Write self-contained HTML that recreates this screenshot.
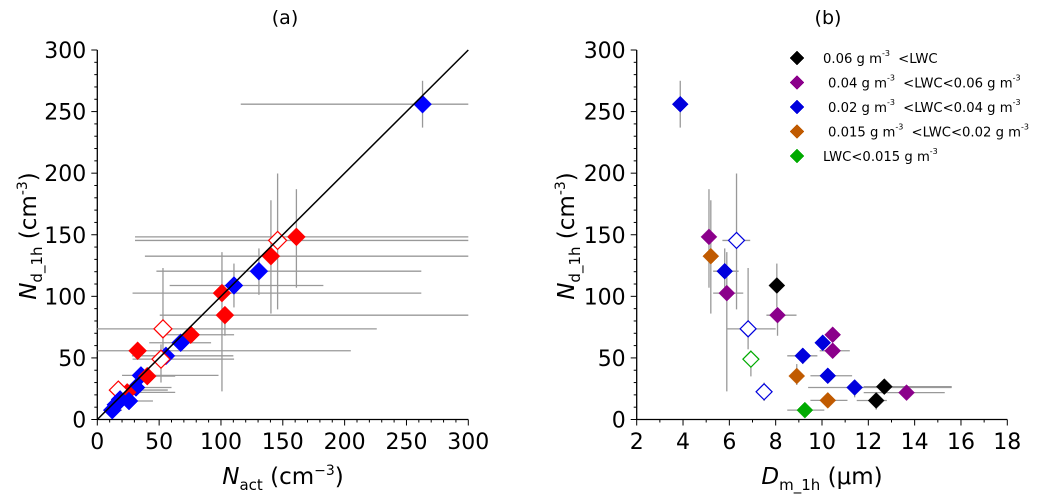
<!DOCTYPE html>
<html><head><meta charset="utf-8"><style>
html,body{margin:0;padding:0;background:#fff;}
svg{display:block;font-family:"DejaVu Sans","Liberation Sans",sans-serif;}
</style></head><body>
<svg id="chart" width="1051" height="503" viewBox="0 0 1051 503" xmlns="http://www.w3.org/2000/svg">
<text x="285" y="24" font-size="19" text-anchor="middle">(a)</text>
<text x="828" y="24" font-size="19" text-anchor="middle">(b)</text>
<text transform="translate(36,236) rotate(-90)" font-size="23" text-anchor="middle"><tspan font-style="italic">N</tspan><tspan font-size="15" dy="6">d_1h</tspan><tspan dy="-6"> (cm</tspan><tspan font-size="14" dy="-9">-3</tspan><tspan dy="9">)</tspan></text>
<text x="283" y="484" font-size="23" text-anchor="middle"><tspan font-style="italic">N</tspan><tspan font-size="15" dy="6">act</tspan><tspan dy="-6">  (cm</tspan><tspan font-size="14" dy="-9">−3</tspan><tspan dy="9">)</tspan></text>
<text transform="translate(574,236) rotate(-90)" font-size="23" text-anchor="middle"><tspan font-style="italic">N</tspan><tspan font-size="15" dy="6">d_1h</tspan><tspan dy="-6"> (cm</tspan><tspan font-size="14" dy="-9">-3</tspan><tspan dy="9">)</tspan></text>
<text x="822" y="484" font-size="23" text-anchor="middle"><tspan font-style="italic">D</tspan><tspan font-size="15" dy="6">m_1h</tspan><tspan dy="-6">  (μm)</tspan></text>
<g id="pa"></g>
<g id="pb"></g>
<g id="legend"></g>
</svg>
<script>
// Panel (a) data
const aX    = [263,145.8,161,140.4,130.7,110.5,100.8,103.2,53.1,75.5,67.4,32.6,55.5,51.5,35.3,40.4,31.3,24.2,17,25.6,18.4,12.1,15];
const aY    = [256,145.4,148.3,132.6,120.4,108.8,102.6,84.7,73.6,68.8,62.3,55.8,51.7,49,35.8,35.2,26,22,23.9,15,16.3,7.6,12];
const aXlo  = [116,30.5,30.5,38.5,47.8,58.5,28.5,50.5,0,50.5,42,0,28,28.5,20,32,25,15,12,18,12,8,10];
const aXhi  = [300,300,300,300,262,182.8,262,300,226,110.6,92,205,110,110.6,98,63,60,63,57,45,30,20,25];
const aYlo  = [237,89.4,107,86,101.2,91,22.8,68,57,64,58,50,45,30,30,28,20,18,18,10,12,4,8];
const aYhi  = [275,199.7,187,178,138.9,126.6,135.9,87,123,74,68,62,58,61,42,42,32,28,28,20,20,11,16];
const aColor= ["blue","red","red","red","blue","blue","red","red","red","red","blue","red","blue","red","blue","red","blue","red","red","blue","blue","blue","blue"];
const aOpen = [0,1,0,0,0,0,0,0,1,0,0,0,0,1,0,0,0,0,1,0,0,0,0];
const aXTicks = [0,50,100,150,200,250,300];
const aYTicks = [0,50,100,150,200,250,300];

// Panel (b) data
const bX    = [3.88,5.12,6.31,5.2,5.8,5.89,8.05,8.08,6.81,10.46,10.03,10.46,6.93,9.17,8.91,10.25,7.5,11.41,12.69,13.65,12.34,10.25,9.26];
const bY    = [256,148.3,145.4,132.6,120.4,102.6,108.8,84.7,73.6,68.8,62.3,55.8,49,51.7,35.3,35.5,22.5,26,26.7,21.8,15.4,15.5,7.6];
const bXlo  = [3.88,5.12,5.7,5.2,5.3,5.3,8.05,7.6,5.9,10.46,9.8,9.9,6.93,8.5,8.91,9.5,7.5,9.4,11.8,11.8,11.5,9.5,8.5];
const bXhi  = [3.88,5.12,6.9,5.2,6.4,6.6,8.05,8.9,8.0,10.46,10.3,11.2,6.93,9.8,8.91,11.3,7.5,15.6,15.6,15.3,12.8,11.1,10.1];
const bYlo  = [237,107,89.4,86,101.2,22.8,91,68,57,68.8,62.3,50,35,45,28,35.5,15,18,26.7,21.8,8,15.5,7.6];
const bYhi  = [275,187,199.7,178,138.9,135.9,126.6,87,123,68.8,62.3,62,56,58,45,35.5,30,32,26.7,21.8,15.4,15.5,7.6];
const bColor= ["#0000dd","#8b008b","#0000dd","#c05a00","#0000dd","#8b008b","#000","#8b008b","#0000dd","#8b008b","#0000dd","#8b008b","#00aa00","#0000dd","#c05a00","#0000dd","#0000dd","#0000dd","#000","#8b008b","#000","#c05a00","#00aa00"];
const bOpen = [0,0,1,0,0,0,0,0,1,0,0,0,1,0,0,0,1,0,0,0,0,0,0];
const bXTicks = [2,4,6,8,10,12,14,16,18];
const bYTicks = [0,50,100,150,200,250,300];

const legendLabels = ["0.06 g m<sup>-3</sup>  <LWC","0.04 g m<sup>-3</sup> <LWC<0.06 g m<sup>-3</sup>","0.02 g m<sup>-3</sup> <LWC<0.04 g m<sup>-3</sup>","0.015 g m<sup>-3</sup> <LWC<0.02 g m<sup>-3</sup>","LWC<0.015 g m<sup>-3</sup>"];
const legendColors = ["#000","#8b008b","#0000dd","#c05a00","#00aa00"];

const NS="http://www.w3.org/2000/svg";
function mk(p,t,a){const e=document.createElementNS(NS,t);for(const k in a)e.setAttribute(k,a[k]);p.appendChild(e);return e;}

const ya = v => 419.5 - v*(369.5/300);
const xa = v => 97.3 + v*(371/300);
const xb = v => 636.7 + (v-2)*(370.6/16);

function axes(g, x0, x1, xs, xTicks, xMinor, yTicks, yMinor){
  let l=mk(g,'line',{x1:x0,y1:419.5,x2:x1,y2:419.5,stroke:'#000','stroke-width':1.3});
  
  
  l=mk(g,'line',{x1:x0,y1:419.5,x2:x0,y2:50,stroke:'#000','stroke-width':1.3});
  
  
  for(let v=xTicks[0]; v<=xTicks[xTicks.length-1]+1e-6; v+=xMinor){
    const major=xTicks.some(t=>Math.abs(t-v)<1e-6);
    mk(g,'line',{x1:xs(v),y1:419.5,x2:xs(v),y2:419.5+(major?6:3),stroke:'#000','stroke-width':1});
  }
  xTicks.forEach(t=>{const e=mk(g,'text',{x:xs(t),y:449,'font-size':22,'text-anchor':'middle'});e.textContent=t;
    
    });
  for(let v=0; v<=300; v+=yMinor){
    const major=yTicks.includes(v);
    mk(g,'line',{x1:x0,y1:ya(v),x2:x0-(major?6:3),y2:ya(v),stroke:'#000','stroke-width':1});
  }
  yTicks.forEach(t=>{const e=mk(g,'text',{x:x0-11,y:ya(t)+8,'font-size':22,'text-anchor':'end'});e.textContent=t;
    
    });
}
function diamond(g,cx,cy,r,col,open){
  return mk(g,'polygon',{points:`${cx},${cy-r} ${cx+r},${cy} ${cx},${cy+r} ${cx-r},${cy}`,fill:open?'#fff':col,stroke:col,'stroke-width':open?1.2:0.5});
}
function series(g,xs,X,Y,Xlo,Xhi,Ylo,Yhi,C,O,r,name){
  X.forEach((x,i)=>{
    const eb=mk(g,'g',{stroke:'#999','stroke-width':1.3});
    
    
    if(Xhi[i]>Xlo[i]) mk(eb,'line',{x1:xs(Xlo[i]),y1:ya(Y[i]),x2:xs(Xhi[i]),y2:ya(Y[i])});
    if(Yhi[i]>Ylo[i]) mk(eb,'line',{x1:xs(x),y1:ya(Ylo[i]),x2:xs(x),y2:ya(Yhi[i])});
  });
  X.forEach((x,i)=>{
    const d=diamond(g,xs(x),ya(Y[i]),r,C[i],O[i]);
    
    
  });
}
const pa=document.getElementById('pa'), pb=document.getElementById('pb');
axes(pa,97.3,468.3,xa,aXTicks,10,aYTicks,10);
series(pa,xa,aX,aY,aXlo,aXhi,aYlo,aYhi,aColor,aOpen,9,'data-point');
const one=mk(pa,'line',{x1:xa(0),y1:ya(0),x2:xa(300),y2:ya(300),stroke:'#000','stroke-width':1.5});


axes(pb,636.7,1007.3,xb,bXTicks,1,bYTicks,10);
series(pb,xb,bX,bY,bXlo,bXhi,bYlo,bYhi,bColor,bOpen,8,'data-point');

const lg=document.getElementById('legend');
legendLabels.forEach((lab,i)=>{
  const y=58+i*24.5;
  const d=diamond(lg,797,y,7,legendColors[i],0);
  
  
  const t=mk(lg,'text',{x:i===0||i===4?823:828,y:y+5,'font-size':13.2});
  
  
  const parts=lab.split(/<sup>|<\/sup>/);
  parts.forEach((p,k)=>{
    const s=mk(t,'tspan',k%2?{'font-size':8,dy:-7}:(k>0?{dy:7,dx:4}:{}));
    s.textContent=p;
  });
});
</script>
</body></html>
